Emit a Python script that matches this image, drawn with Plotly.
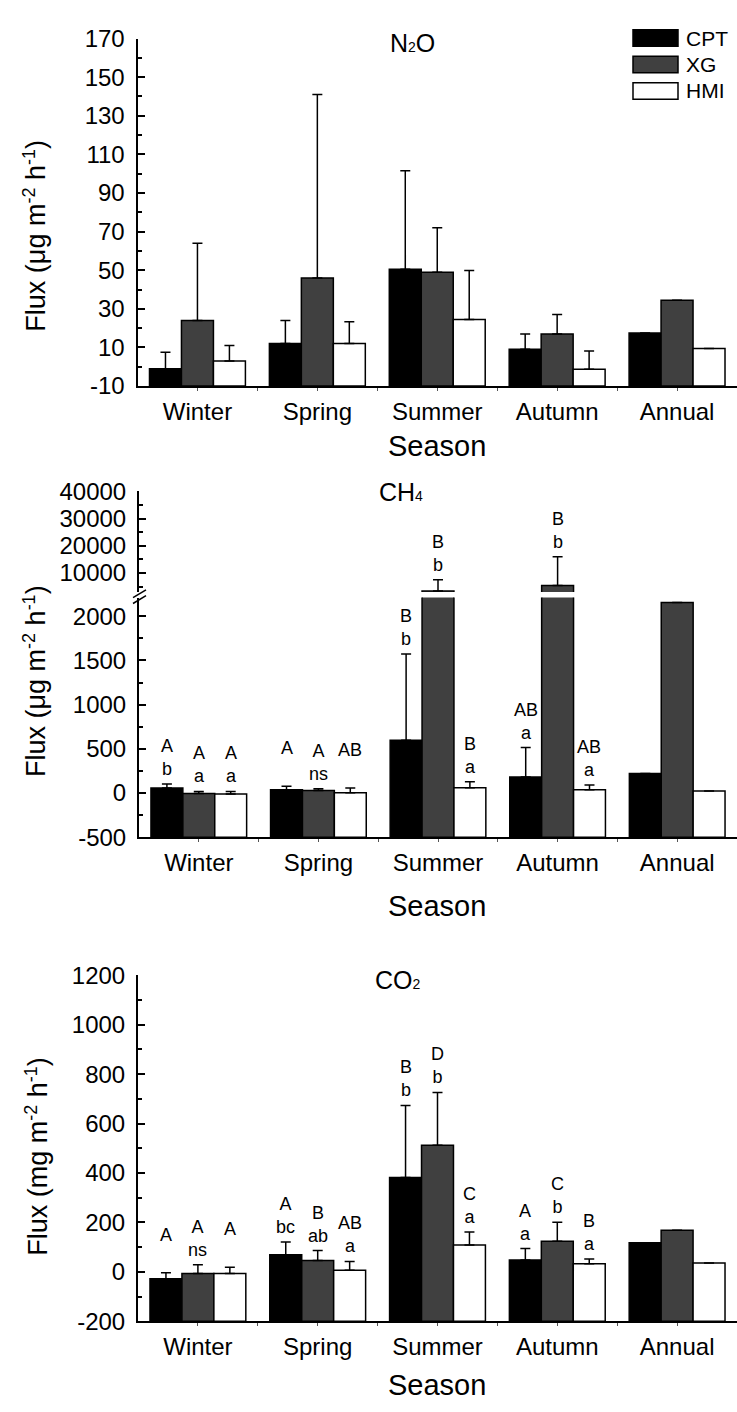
import plotly.graph_objects as go

W, H = 737, 1412
FONT = "Liberation Sans, Arial, sans-serif"

seasons = ["Winter", "Spring", "Summer", "Autumn", "Annual"]
treatments = ["CPT", "XG", "HMI"]
colors = ["#000000", "#404040", "#ffffff"]

# ---- N2O (ug m-2 h-1) ----
n2o_cpt = [-1, 12, 50.5, 9, 17.5]
n2o_xg = [24, 46, 49, 17, 34.5]
n2o_hmi = [3, 12, 24.5, -1.3, 9.5]
n2o_cpt_err = [8.5, 12, 51, 8, None]
n2o_xg_err = [40, 95, 23, 10, None]
n2o_hmi_err = [8, 11.3, 25.3, 9.4, None]
n2o_ticks = [-10, 10, 30, 50, 70, 90, 110, 130, 150, 170]

# ---- CH4 (ug m-2 h-1) ----
ch4_cpt = [56, 37, 596, 181, 222]
ch4_xg = [-5, 29, 3360, 5380, 2155]
ch4_hmi = [-11, 3, 59, 37, 22]
ch4_cpt_err = [47, 41, 977, 333, None]
ch4_xg_err = [23, 19, 4180, 10600, None]
ch4_hmi_err = [29, 53, 70, 55, None]
ch4_cpt_up = ["A", "A", "B", "AB", ""]
ch4_cpt_low = ["b", "", "b", "a", ""]
ch4_xg_up = ["A", "A", "B", "B", ""]
ch4_xg_low = ["a", "ns", "b", "b", ""]
ch4_hmi_up = ["A", "AB", "B", "AB", ""]
ch4_hmi_low = ["a", "", "a", "a", ""]
ch4_low_ticks = [-500, 0, 500, 1000, 1500, 2000]
ch4_up_ticks = [10000, 20000, 30000, 40000]

# ---- CO2 (mg m-2 h-1) ----
co2_cpt = [-28, 69, 382, 48, 118]
co2_xg = [-7, 46, 512, 124, 168]
co2_hmi = [-7, 6, 108, 33, 36]
co2_cpt_err = [24, 52, 291, 46, None]
co2_xg_err = [36, 40, 214, 76, None]
co2_hmi_err = [25, 36, 53, 19, None]
co2_cpt_up = ["A", "A", "B", "A", ""]
co2_cpt_low = ["", "bc", "b", "a", ""]
co2_xg_up = ["A", "B", "D", "C", ""]
co2_xg_low = ["ns", "ab", "b", "b", ""]
co2_hmi_up = ["A", "AB", "C", "B", ""]
co2_hmi_low = ["", "a", "a", "a", ""]
co2_ticks = [-200, 0, 200, 400, 600, 800, 1000, 1200]

# axis ranges
n2o_range = [-10, 170]
ch4_low_range = [-500, 2210]
ch4_up_range = [3000, 40000]
co2_range = [-200, 1200]

BARGAP = 0.2
xidx = list(range(len(seasons)))


def px(x):
    return x / W


def py(y):
    return 1 - y / H


fig = go.Figure()


def add_bars(vals_list, errs_list, xa, ya, base):
    for name, col, vals, errs in zip(treatments, colors, vals_list, errs_list):
        fig.add_trace(go.Bar(
            x=xidx, y=[v - base for v in vals], base=base, name=name,
            marker=dict(color=col, line=dict(color="black", width=1.5)),
            error_y=dict(type="data", symmetric=False,
                         array=[e if e is not None else float("nan") for e in errs],
                         arrayminus=[0] * len(errs),
                         color="black", thickness=1.5, width=5),
            xaxis=xa, yaxis=ya, showlegend=False,
        ))


add_bars([n2o_cpt, n2o_xg, n2o_hmi], [n2o_cpt_err, n2o_xg_err, n2o_hmi_err], "x", "y", n2o_range[0])
add_bars([ch4_cpt, ch4_xg, ch4_hmi], [ch4_cpt_err, ch4_xg_err, ch4_hmi_err], "x2", "y2", ch4_low_range[0])
add_bars([ch4_cpt, ch4_xg, ch4_hmi], [ch4_cpt_err, ch4_xg_err, ch4_hmi_err], "x2", "y3", ch4_low_range[0])
add_bars([co2_cpt, co2_xg, co2_hmi], [co2_cpt_err, co2_xg_err, co2_hmi_err], "x3", "y4", co2_range[0])

annotations = []
barw = (1 - BARGAP) / 3
LINE = 23  # px between letter lines


def add_letters(vals_list, errs_list, ups, lows, xa, ya_func):
    for j, (vals, errs, up, low) in enumerate(zip(vals_list, errs_list, ups, lows)):
        for i in xidx:
            if not up[i]:
                continue
            top = vals[i] + (errs[i] or 0)
            ya = ya_func(top)
            if low[i]:
                text, shift = up[i] + "<br>" + low[i], 3
            else:
                text, shift = up[i], 3 + LINE
            annotations.append(dict(
                x=i + (j - 1) * barw, y=top, xref=xa, yref=ya,
                text=text, showarrow=False, yanchor="bottom", xanchor="center",
                yshift=shift, font=dict(size=18, color="black", family=FONT),
            ))


add_letters([ch4_cpt, ch4_xg, ch4_hmi], [ch4_cpt_err, ch4_xg_err, ch4_hmi_err],
            [ch4_cpt_up, ch4_xg_up, ch4_hmi_up], [ch4_cpt_low, ch4_xg_low, ch4_hmi_low],
            "x2", lambda t: "y3" if t > ch4_low_range[1] else "y2")
add_letters([co2_cpt, co2_xg, co2_hmi], [co2_cpt_err, co2_xg_err, co2_hmi_err],
            [co2_cpt_up, co2_xg_up, co2_hmi_up], [co2_cpt_low, co2_xg_low, co2_hmi_low],
            "x3", lambda t: "y4")

# panel titles (small inline subscript digit, as in the original)
SUB = "<span style='font-size:14px'>{}</span>"
for txt, xc, yc in [("N" + SUB.format("2") + "O", 412, 30),
                    ("CH" + SUB.format("4"), 401, 487),
                    ("CO" + SUB.format("2"), 398, 985)]:
    annotations.append(dict(x=px(xc), y=py(yc), xref="paper", yref="paper", text=txt,
                            showarrow=False, xanchor="center", yanchor="middle",
                            font=dict(size=25, color="black", family=FONT)))

# y titles (superscripts via a raised smaller span)
SUP = "<span style='font-size:18px;baseline-shift:10px'>{}</span>"
ytitle_ug = "Flux (μg m" + SUP.format("-2") + " h" + SUP.format("-1") + ")"
ytitle_mg = "Flux (mg m" + SUP.format("-2") + " h" + SUP.format("-1") + ")"
for txt, xc, yc in [(ytitle_ug, 35, 226), (ytitle_ug, 35, 680), (ytitle_mg, 37, 1165)]:
    annotations.append(dict(x=px(xc), y=py(yc), xref="paper", yref="paper", text=txt,
                            showarrow=False, textangle=-90, xanchor="center", yanchor="middle",
                            font=dict(size=27, color="black", family=FONT)))

# x titles
for yc in [440, 909, 1398]:
    annotations.append(dict(x=px(437), y=py(yc), xref="paper", yref="paper", text="Season",
                            showarrow=False, xanchor="center", yanchor="middle",
                            font=dict(size=29, color="black", family=FONT)))

# legend (manual)
shapes = []
for k, (name, col) in enumerate(zip(treatments, colors)):
    yc = 24.5 + k * 27
    shapes.append(dict(type="rect", xref="paper", yref="paper",
                       x0=px(633), x1=px(678), y0=py(yc - 8.5), y1=py(yc + 8.5),
                       fillcolor=col, line=dict(color="black", width=1.5)))
    annotations.append(dict(x=px(684), y=py(yc), xref="paper", yref="paper", text=name,
                            showarrow=False, xanchor="left", yanchor="middle",
                            font=dict(size=21, color="black", family=FONT)))

# axis break marks on CH4
for dy in (0, 6):
    shapes.append(dict(type="line", xref="paper", yref="paper",
                       x0=px(133), x1=px(146), y0=py(595 + dy), y1=py(587 + dy),
                       line=dict(color="black", width=1.5)))

tickfont = dict(size=24, color="black", family=FONT)


def xaxis_cfg(left, anchor):
    return dict(domain=[px(left), 1], range=[-0.5, len(seasons) - 0.5], anchor=anchor,
                tickmode="array", tickvals=xidx, ticktext=seasons, tickfont=tickfont,
                ticks="outside", ticklen=3, tickwidth=1, tickcolor="#555",
                minor=dict(tickmode="array", tickvals=[i + 0.5 for i in xidx[:-1]],
                           ticks="outside", ticklen=3, tickwidth=1, tickcolor="#555"),
                showline=True, linecolor="black", linewidth=2, showgrid=False, zeroline=False,
                fixedrange=True)


def yaxis_cfg(dom, rng, ticks, anchor):
    step = ticks[1] - ticks[0]
    minor_vals = [ticks[0] - step / 2] + [t + step / 2 for t in ticks]
    return dict(domain=dom, range=rng, anchor=anchor, tickmode="array", tickvals=ticks,
                ticktext=[str(t) for t in ticks],
                tickfont=tickfont, ticks="inside", ticklen=7, tickwidth=1.5, tickcolor="black",
                minor=dict(tickmode="array", tickvals=minor_vals, ticks="inside", ticklen=4,
                           tickwidth=1.5, tickcolor="black"),
                showline=True, linecolor="black", linewidth=2, showgrid=False, zeroline=False,
                ticklabelstandoff=6, fixedrange=True)


fig.update_layout(
    width=W, height=H, margin=dict(l=0, r=0, t=0, b=0),
    paper_bgcolor="white", plot_bgcolor="white",
    barmode="group", bargap=BARGAP, bargroupgap=0,
    font=dict(family=FONT, color="black"),
    showlegend=False,
    xaxis=xaxis_cfg(137.5, "y"),
    xaxis2=xaxis_cfg(139, "y2"),
    xaxis3=xaxis_cfg(138, "y4"),
    yaxis=yaxis_cfg([py(379.3), py(25)], n2o_range, n2o_ticks, "x"),
    yaxis2=yaxis_cfg([py(839.3), py(595)], ch4_low_range, ch4_low_ticks, "x2"),
    yaxis3=yaxis_cfg([py(589.3), py(486.7)], ch4_up_range, ch4_up_ticks, "x2"),
    yaxis4=yaxis_cfg([py(1332.7), py(980)], co2_range, co2_ticks, "x3"),
    annotations=annotations, shapes=shapes,
)

fig.write_html("out.html", config={"displayModeBar": False},
               post_script="document.body.style.margin='0';document.body.style.overflow='hidden';")
